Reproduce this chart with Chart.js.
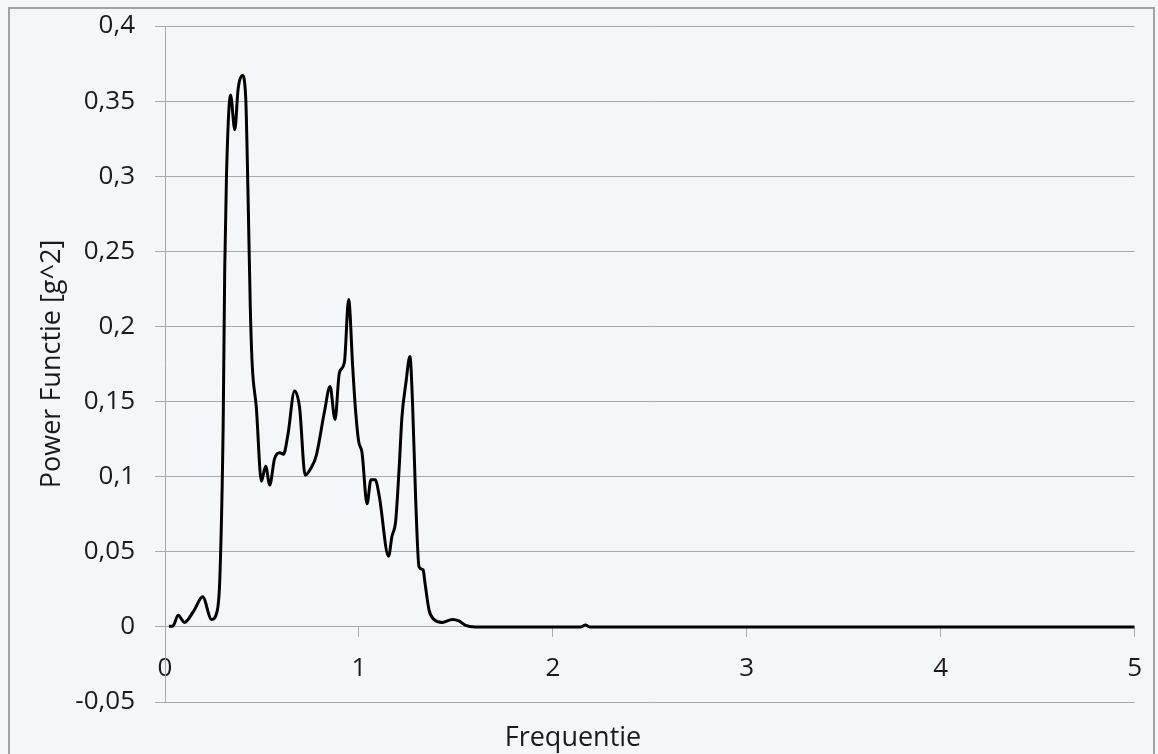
<!DOCTYPE html>
<html>
<head>
<meta charset="utf-8">
<script src="https://cdn.jsdelivr.net/npm/chart.js@4/dist/chart.umd.min.js"></script>
<style>
    html, body { margin: 0; padding: 0; background: #f4f7fa; overflow: hidden; }
    #frame {
        position: absolute; left: 8px; top: 7px; width: 1147px; height: 760px;
        border: 2px solid #a3a3a3; box-sizing: border-box;
    }
    #spectrum { position: absolute; left: 0; top: 0; }
</style>
</head>
<body>
<div id="frame"></div>
<canvas id="spectrum" width="1158" height="754"></canvas>
<script>
// power spectrum, frequency vs power
var freq = [0.02, 0.04, 0.068, 0.1, 0.15, 0.194, 0.24, 0.268, 0.283, 0.3, 0.308, 0.317, 0.338, 0.36, 0.377, 0.399,
    0.416, 0.428, 0.44, 0.45, 0.471, 0.497, 0.519, 0.54, 0.565, 0.591, 0.611, 0.634, 0.668, 0.694, 0.723, 0.754,
    0.78, 0.822, 0.851, 0.877, 0.899, 0.925, 0.947, 0.968, 0.981, 0.998, 1.016, 1.042, 1.062, 1.084, 1.105, 1.153,
    1.17, 1.19, 1.208, 1.222, 1.242, 1.263, 1.276, 1.293, 1.31, 1.331, 1.341, 1.362, 1.387, 1.43, 1.482, 1.516,
    1.55, 1.6, 2.145, 2.168, 2.19, 5];
var power = [0.0005, 0.0005, 0.0077, 0.003, 0.011, 0.020, 0.005, 0.010, 0.033, 0.135, 0.238, 0.30, 0.354, 0.331,
    0.358, 0.367, 0.353, 0.289, 0.212, 0.174, 0.146, 0.097, 0.107, 0.0945, 0.112, 0.116, 0.115, 0.128, 0.157, 0.146,
    0.101, 0.106, 0.114, 0.143, 0.160, 0.138, 0.169, 0.176, 0.218, 0.173, 0.147, 0.124, 0.116, 0.082, 0.098, 0.098,
    0.087, 0.047, 0.060, 0.071, 0.107, 0.140, 0.162, 0.180, 0.151, 0.084, 0.040, 0.038, 0.029, 0.011, 0.005, 0.003,
    0.005, 0.004, 0.001, 0, 0, 0.0012, 0, 0];
var xTicks = [0, 1, 2, 3, 4, 5];
var yMin = -0.05, yMax = 0.4, yStep = 0.05;
var xTitle = 'Frequentie';
var yTitle = 'Power Functie [g^2]';

var font = { family: "'Open Sans', sans-serif", size: 26 };
var textColor = '#1a1a1a';
var gridColor = '#aaaaaa';

var points = freq.map(function(f, i) { return { x: f, y: power[i] }; });

// axis titles sit at fixed spots like the spreadsheet original
var axisTitles = {
    id: 'axisTitles',
    afterDraw: function(chart) {
        var c = chart.ctx;
        c.save();
        c.fillStyle = textColor;
        c.font = "27px 'Open Sans', sans-serif";
        c.textAlign = 'center';
        c.textBaseline = 'middle';
        c.fillText(xTitle, 573, 738);
        c.translate(52, 364);
        c.rotate(-Math.PI / 2);
        c.fillText(yTitle, 0, 0);
        c.restore();
    }
};

var ctx = document.getElementById('spectrum');
var spectrum = new Chart(ctx, {
    type: 'line',
    data: {
        datasets: [{
            data: points,
            borderColor: '#000000',
            borderWidth: 3,
            pointRadius: 0,
            cubicInterpolationMode: 'monotone',
            fill: false
        }]
    },
    options: {
        responsive: false,
        animation: false,
        layout: { padding: { left: 0, top: 26, right: 20, bottom: 52 } },
        plugins: { legend: { display: false }, tooltip: { enabled: false } },
        scales: {
            x: {
                type: 'linear',
                position: { y: 0 },
                min: 0,
                max: 5,
                afterBuildTicks: function(axis) {
                    axis.ticks = xTicks.map(function(v) { return { value: v }; });
                },
                grid: { drawOnChartArea: false, drawTicks: true, tickLength: 10, color: gridColor },
                border: { color: gridColor, width: 1 },
                ticks: { font: font, color: textColor, padding: 16, maxRotation: 0, autoSkip: false }
            },
            y: {
                min: yMin,
                max: yMax,
                afterFit: function(axis) {
                    axis.width = 165;
                    // label padding shouldn't push the plot area in
                    axis.paddingTop = 0;
                    axis.paddingBottom = 0;
                },
                grid: { color: gridColor, tickLength: 10, lineWidth: 1 },
                border: { color: gridColor, width: 1 },
                ticks: {
                    stepSize: yStep,
                    font: font,
                    color: textColor,
                    padding: 20,
                    callback: function(v) {
                        return String(Math.round(v * 100) / 100).replace('.', ',');
                    }
                }
            }
        }
    },
    plugins: [axisTitles]
});
</script>
</body>
</html>
